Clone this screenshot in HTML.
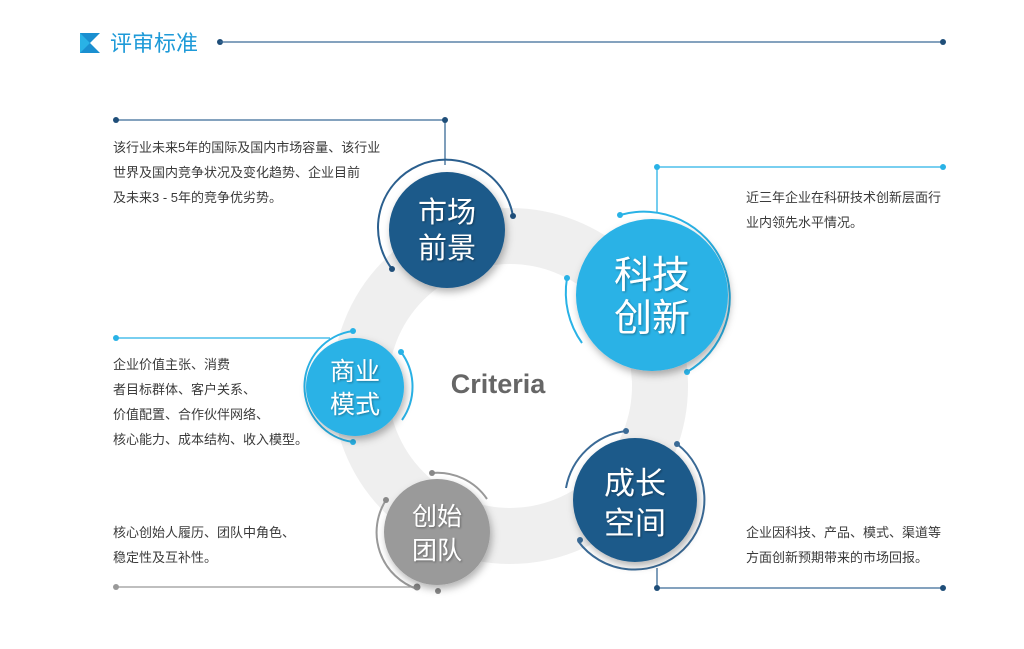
<!DOCTYPE html>
<html><head><meta charset="utf-8"><style>
body{margin:0;background:#fff;}
svg{display:block}
text{font-family:"Liberation Sans","Noto Sans CJK SC",sans-serif;}
.d{font-size:13px;fill:#3a3a3a;}
.w{fill:#fff;text-anchor:middle;}
</style></head><body>
<svg width="1024" height="649" viewBox="0 0 1024 649">
<defs>
<filter id="sh" x="-30%" y="-30%" width="160%" height="160%"><feDropShadow dx="2" dy="4" stdDeviation="4" flood-color="#000" flood-opacity="0.3"/></filter>
<filter id="ts"><feDropShadow dx="1" dy="1" stdDeviation="1" flood-color="#000" flood-opacity="0.35"/></filter>
</defs>
<polygon points="80,33 100,33 90,43 100,53 80,53" fill="#1a8fd0"/>
<polygon points="80,33 90,43 80,53" fill="#29b2e6"/>
<text x="110" y="51" font-size="22" fill="#1e9ad8">评审标准</text>
<circle cx="220" cy="42" r="3" fill="#1f4e79"/>
<line x1="220" y1="42" x2="943" y2="42" stroke="#3a6a96" stroke-width="1.3"/>
<circle cx="943" cy="42" r="3" fill="#1f4e79"/>

<circle cx="510" cy="386" r="150" fill="none" stroke="#efefef" stroke-width="56"/>
<text x="498" y="393" font-size="27" font-weight="bold" fill="#666" text-anchor="middle">Criteria</text>

<g stroke-width="1.3" fill="none">
<path d="M116 120 H445 V165" stroke="#3a6a96"/>
<path d="M943 167 H657 V212" stroke="#29b2e6"/>
<path d="M116 338 H330" stroke="#29b2e6"/>
<path d="M116 587 H417" stroke="#999"/>
<path d="M943 588 H657 V568" stroke="#3a6a96"/>
</g>
<g fill="#1f4e79"><circle cx="116" cy="120" r="3"/><circle cx="445" cy="120" r="3"/><circle cx="657" cy="588" r="3"/><circle cx="943" cy="588" r="3"/></g>
<g fill="#29b2e6"><circle cx="657" cy="167" r="3"/><circle cx="943" cy="167" r="3"/><circle cx="116" cy="338" r="3"/></g>
<g fill="#999"><circle cx="116" cy="587" r="3"/></g>

<g fill="none" stroke-width="2">
<path d="M392 269 A68 68 0 1 1 513 216" stroke="#2b5f8e"/>
<path d="M620 215 A86 86 0 0 1 687 372" stroke="#29b2e6"/>
<path d="M582 343 A87 87 0 0 1 567 278" stroke="#29b2e6"/>
<path d="M353 442 A56 56 0 0 1 353 331" stroke="#29b2e6"/>
<path d="M401 352 A58 58 0 0 1 402 420" stroke="#29b2e6"/>
<path d="M432 473 A60 60 0 0 1 487 499" stroke="#999"/>
<path d="M417 589 A60 60 0 0 1 386 500" stroke="#999"/>
<path d="M566 488 A70 70 0 0 1 626 431" stroke="#3a6a96"/>
<path d="M677 444 A70 70 0 1 1 578 541" stroke="#3a6a96"/>
</g>
<g>
<circle cx="392" cy="269" r="3" fill="#1f4e79"/><circle cx="513" cy="216" r="3" fill="#1f4e79"/>
<circle cx="620" cy="215" r="3" fill="#29b2e6"/><circle cx="687" cy="372" r="3" fill="#29b2e6"/><circle cx="567" cy="278" r="3" fill="#29b2e6"/>
<circle cx="353" cy="331" r="3" fill="#29b2e6"/><circle cx="353" cy="442" r="3" fill="#29b2e6"/><circle cx="401" cy="352" r="3" fill="#29b2e6"/>
<circle cx="432" cy="473" r="3" fill="#888"/><circle cx="386" cy="500" r="3" fill="#888"/><circle cx="417" cy="587" r="3.5" fill="#888"/><circle cx="438" cy="591" r="3" fill="#888"/>
<circle cx="626" cy="431" r="3" fill="#3a6a96"/><circle cx="677" cy="444" r="3" fill="#3a6a96"/><circle cx="580" cy="540" r="3" fill="#3a6a96"/>
</g>

<g filter="url(#sh)">
<circle cx="447" cy="230" r="58" fill="#1f5a8a"/>
<circle cx="652" cy="295" r="76" fill="#29b2e6"/>
<circle cx="355" cy="387" r="49" fill="#29b2e6"/>
<circle cx="437" cy="532" r="53" fill="#9a9a9a"/>
<circle cx="635" cy="500" r="62" fill="#1f5a8a"/>
</g>
<g class="w" filter="url(#ts)">
<text x="447" y="222" font-size="29" class="w">市场</text>
<text x="447" y="258" font-size="29" class="w">前景</text>
<text x="652" y="288" font-size="38" class="w">科技</text>
<text x="652" y="331" font-size="38" class="w">创新</text>
<text x="355" y="380" font-size="25" class="w">商业</text>
<text x="355" y="413" font-size="25" class="w">模式</text>
<text x="437" y="525" font-size="25" class="w">创始</text>
<text x="437" y="559" font-size="25" class="w">团队</text>
<text x="635" y="494" font-size="31" class="w">成长</text>
<text x="635" y="534" font-size="31" class="w">空间</text>
</g>

<text class="d" x="113" y="152">该行业未来5年的国际及国内市场容量、该行业</text>
<text class="d" x="113" y="177">世界及国内竞争状况及变化趋势、企业目前</text>
<text class="d" x="113" y="202">及未来3 - 5年的竞争优劣势。</text>
<text class="d" x="746" y="202">近三年企业在科研技术创新层面行</text>
<text class="d" x="746" y="227">业内领先水平情况。</text>
<text class="d" x="113" y="369">企业价值主张、消费</text>
<text class="d" x="113" y="394">者目标群体、客户关系、</text>
<text class="d" x="113" y="419">价值配置、合作伙伴网络、</text>
<text class="d" x="113" y="444">核心能力、成本结构、收入模型。</text>
<text class="d" x="113" y="537">核心创始人履历、团队中角色、</text>
<text class="d" x="113" y="562">稳定性及互补性。</text>
<text class="d" x="746" y="537">企业因科技、产品、模式、渠道等</text>
<text class="d" x="746" y="562">方面创新预期带来的市场回报。</text>
</svg>
</body></html>
